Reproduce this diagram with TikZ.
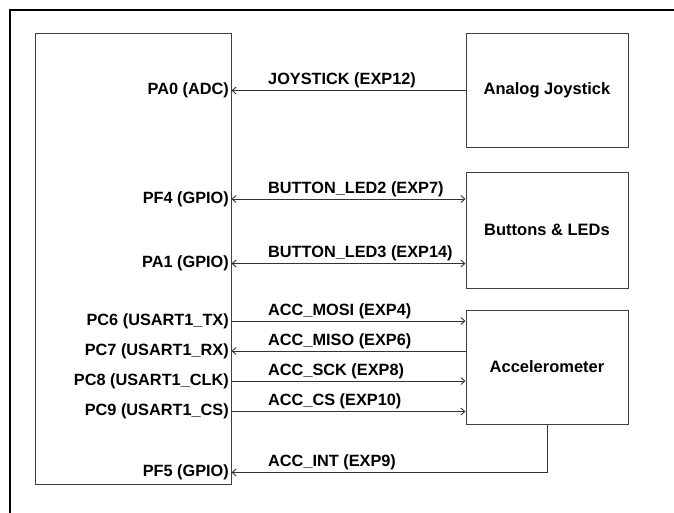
\documentclass[tikz,border=0pt]{standalone}
\usepackage{fontspec}
\setmainfont{Liberation Sans}
\usetikzlibrary{arrows.meta}
\begin{document}
\begin{tikzpicture}[x=1pt,y=-1pt,
  >={Straight Barb[length=4pt,width=7pt]},
  blk/.style={draw=black!75, line width=1pt, inner sep=0pt, align=center,
    font=\bfseries\fontsize{16.5}{19}\selectfont},
  wire/.style={draw=black!80, line width=0.9pt},
  pin/.style={anchor=east, inner xsep=2.5pt, inner ysep=0pt,
    font=\bfseries\fontsize{16.3}{19}\selectfont},
  sig/.style={anchor=base west, inner sep=0pt,
    font=\bfseries\fontsize{16.3}{19}\selectfont}]
\useasboundingbox (0,0) rectangle (674,512);
\clip (0,0) rectangle (674,512);
\draw[line width=2pt] (9.5,530) -- (9.5,9.5) -- (690,9.5);

\node[blk, minimum width=196pt, minimum height=451pt] (mcu) at (133,258.5) {};
\node[blk, minimum width=162pt, minimum height=114pt] (joy) at (547,90) {Analog Joystick};
\node[blk, minimum width=162pt, minimum height=116pt] (btn) at (547,230) {Buttons \& LEDs};
\node[blk, minimum width=162pt, minimum height=114pt] (acc) at (547,367) {Accelerometer};

\coordinate (pa0) at (mcu.east |- 0,90.5);
\coordinate (pf4) at (mcu.east |- 0,199);
\coordinate (pa1) at (mcu.east |- 0,263.5);
\coordinate (pc6) at (mcu.east |- 0,321);
\coordinate (pc7) at (mcu.east |- 0,351);
\coordinate (pc8) at (mcu.east |- 0,381);
\coordinate (pc9) at (mcu.east |- 0,411.5);
\coordinate (pf5) at (mcu.east |- 0,472.5);

\node[pin] (lpa0) at (pa0) {PA0 (ADC)};
\node[pin] (lpf4) at (pf4) {PF4 (GPIO)};
\node[pin] (lpa1) at (pa1) {PA1 (GPIO)};
\node[pin] (lpc6) at (pc6) {PC6 (USART1\_TX)};
\node[pin] (lpc7) at (pc7) {PC7 (USART1\_RX)};
\node[pin] (lpc8) at (pc8) {PC8 (USART1\_CLK)};
\node[pin] (lpc9) at (pc9) {PC9 (USART1\_CS)};
\node[pin] (lpf5) at (pf5) {PF5 (GPIO)};

\draw[wire,<-] (pa0) -- (pa0 -| joy.west);
\draw[wire,<->] (pf4) -- (pf4 -| btn.west);
\draw[wire,<->] (pa1) -- (pa1 -| btn.west);
\draw[wire,->] (pc6) -- (pc6 -| acc.west);
\draw[wire,<-] (pc7) -- (pc7 -| acc.west);
\draw[wire,->] (pc8) -- (pc8 -| acc.west);
\draw[wire,->] (pc9) -- (pc9 -| acc.west);
\draw[wire,<-] (pf5) -- (pf5 -| acc.south) -- (acc.south);

\node[sig] (sj) at (268,84.5) {JOYSTICK (EXP12)};
\node[sig] (sb2) at (268,193) {BUTTON\_LED2 (EXP7)};
\node[sig] (sb3) at (268,257.5) {BUTTON\_LED3 (EXP14)};
\node[sig] (smo) at (268,315) {ACC\_MOSI (EXP4)};
\node[sig] (smi) at (268,345) {ACC\_MISO (EXP6)};
\node[sig] (ssc) at (268,375) {ACC\_SCK (EXP8)};
\node[sig] (scs) at (268,405.5) {ACC\_CS (EXP10)};
\node[sig] (sin) at (268,466.5) {ACC\_INT (EXP9)};
\end{tikzpicture}
\end{document}
